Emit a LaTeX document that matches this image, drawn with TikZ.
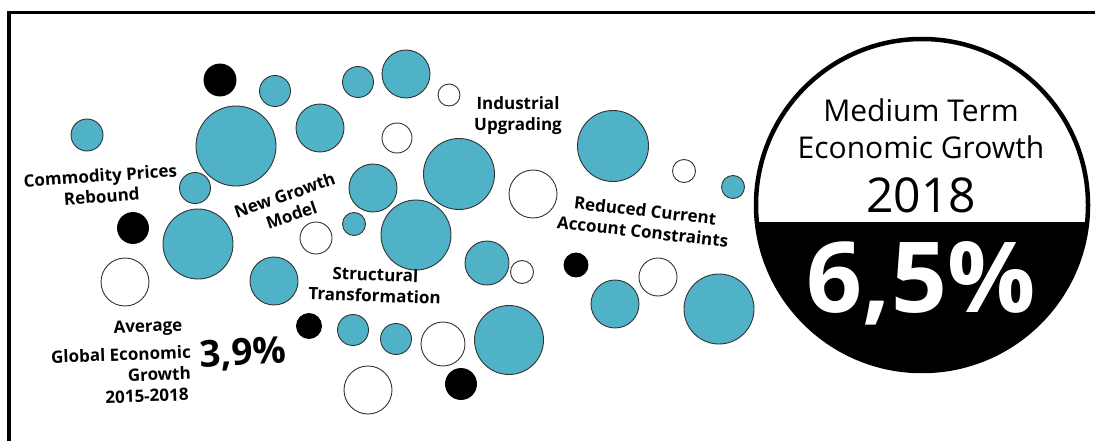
\documentclass[tikz,border=0pt]{standalone}
\usepackage{fontspec}
\setmainfont{Open Sans}
\definecolor{bubbleteal}{RGB}{80,178,198}
\tikzset{
  tealdot/.style={fill=bubbleteal, draw=black!80, line width=0.9pt},
  blackdot/.style={fill=black, draw=black, line width=0.9pt},
  whitedot/.style={fill=white, draw=black!80, line width=0.9pt},
  tag/.style={font=\fontsize{17}{21}\selectfont\bfseries, align=center, inner sep=0pt}
}
\begin{document}
\begin{tikzpicture}[x=1pt, y=-1pt]
\useasboundingbox (0,0) rectangle (1095,441);
% Frame
\draw[line width=3.5pt] (9,441) -- (9,12.5) -- (1095,12.5);

% Bubbles
\draw[blackdot] (220,80) circle[radius=16pt];
\draw[tealdot] (275,91) circle[radius=15.5pt];
\draw[tealdot] (358,82) circle[radius=15.5pt];
\draw[tealdot] (87,135) circle[radius=16pt];
\draw[tealdot] (236,146) circle[radius=40pt];
\draw[tealdot] (320,128) circle[radius=24pt];
\draw[tealdot] (195,188) circle[radius=15.5pt];
\draw[blackdot] (133,228) circle[radius=15.5pt];
\draw[tealdot] (198,244) circle[radius=35pt];
\draw[whitedot] (125,282) circle[radius=24pt];
\draw[tealdot] (274,281) circle[radius=24pt];
\draw[whitedot] (316,238) circle[radius=16pt];
\draw[tealdot] (354,224) circle[radius=11.5pt];
\draw[tealdot] (373,188) circle[radius=24pt];
\draw[blackdot] (309,326) circle[radius=12.5pt];
\draw[tealdot] (353,330) circle[radius=15.5pt];
\draw[whitedot] (368,390) circle[radius=24pt];
\draw[tealdot] (406,74) circle[radius=24pt];
\draw[whitedot] (449,95) circle[radius=11pt];
\draw[whitedot] (397,138) circle[radius=15pt];
\draw[tealdot] (459,174) circle[radius=35.5pt];
\draw[tealdot] (416,235) circle[radius=35pt];
\draw[whitedot] (533,194) circle[radius=24pt];
\draw[tealdot] (613,146) circle[radius=35.5pt];
\draw[whitedot] (684,171) circle[radius=11.5pt];
\draw[tealdot] (733,187) circle[radius=11.5pt];
\draw[tealdot] (487,263) circle[radius=22pt];
\draw[whitedot] (522,272) circle[radius=11.5pt];
\draw[blackdot] (576,265) circle[radius=12pt];
\draw[whitedot] (658,277) circle[radius=19pt];
\draw[tealdot] (615,304) circle[radius=24pt];
\draw[tealdot] (719,309) circle[radius=35pt];
\draw[tealdot] (396,339) circle[radius=15.5pt];
\draw[whitedot] (443,344) circle[radius=22pt];
\draw[tealdot] (509,340) circle[radius=34.5pt];
\draw[blackdot] (461,384) circle[radius=15.5pt];

% Labels
\node[tag, rotate=4] (commodity) at (101,186) {Commodity Prices\\Rebound};
\node[tag, rotate=19] (newmodel) at (288,205) {New Growth\\Model};
\node[tag] (industrial) at (518,116) {Industrial\\Upgrading};
\node[tag, rotate=-6.5] (reduced) at (644,221) {Reduced Current\\Account Constraints};
\node[tag, rotate=-2] (structural) at (375,285) {Structural\\Transformation};
\node[tag, rotate=2] (avgone) at (148,328) {Average};
\node[tag, rotate=2, anchor=east] (avgtwo) at (191,352) {Global Economic};
\node[tag, rotate=2, anchor=east] (avgthree) at (191,373) {Growth};
\node[tag, rotate=2] (avgfour) at (147,396) {2015-2018};
\node[tag, rotate=3, font=\fontsize{37}{37}\selectfont\bfseries] (globalrate) at (243,354) {3,9\%};

% Medium term badge
\begin{scope}
  \clip (922,205) circle[radius=166pt];
  \fill[black] (750,222) rectangle (1095,380);
\end{scope}
\draw[line width=4.5pt] (922,205) circle[radius=166pt];
\node[align=center, inner sep=0pt, font=\fontsize{30}{37}\selectfont] (badgetitle) at (921,129) {Medium Term\\Economic Growth};
\node[inner sep=0pt, font=\fontsize{48}{48}\selectfont] (badgeyear) at (921,195) {2018};
\node[inner sep=0pt, text=white, font=\fontsize{98}{98}\selectfont\bfseries] (badgerate) at (921,283) {6,5\%};
\end{tikzpicture}
\end{document}
